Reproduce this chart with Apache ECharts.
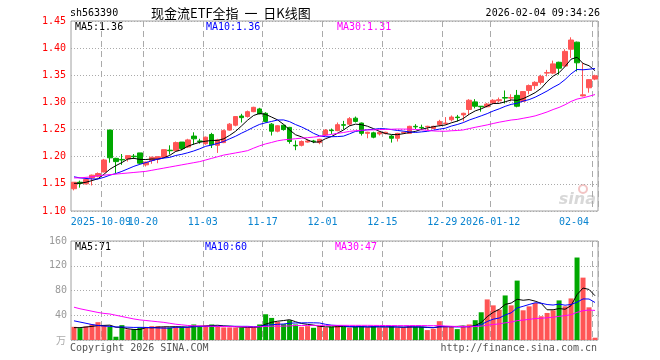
<!DOCTYPE html>
<html><head><meta charset="utf-8">
<script src="https://cdn.jsdelivr.net/npm/echarts@6/dist/echarts.min.js"></script>
<style>html,body{margin:0;padding:0;background:#fff}#c{width:660px;height:360px}</style>
</head><body><div id="c"></div>
<script>
const dates = ['2025-09-24','2025-09-25','2025-09-26','2025-09-29','2025-09-30','2025-10-09','2025-10-10','2025-10-13','2025-10-14','2025-10-15',
'2025-10-16','2025-10-17','2025-10-20','2025-10-21','2025-10-22','2025-10-23','2025-10-24','2025-10-27','2025-10-28','2025-10-29',
'2025-10-30','2025-10-31','2025-11-03','2025-11-04','2025-11-05','2025-11-06','2025-11-07','2025-11-10','2025-11-11','2025-11-12',
'2025-11-13','2025-11-14','2025-11-17','2025-11-18','2025-11-19','2025-11-20','2025-11-21','2025-11-24','2025-11-25','2025-11-26',
'2025-11-27','2025-11-28','2025-12-01','2025-12-02','2025-12-03','2025-12-04','2025-12-05','2025-12-08','2025-12-09','2025-12-10',
'2025-12-11','2025-12-12','2025-12-15','2025-12-16','2025-12-17','2025-12-18','2025-12-19','2025-12-22','2025-12-23','2025-12-24',
'2025-12-25','2025-12-26','2025-12-29','2025-12-30','2025-12-31','2026-01-05','2026-01-06','2026-01-07','2026-01-08','2026-01-09',
'2026-01-12','2026-01-13','2026-01-14','2026-01-15','2026-01-16','2026-01-19','2026-01-20','2026-01-21','2026-01-22','2026-01-23',
'2026-01-26','2026-01-27','2026-01-28','2026-01-29','2026-01-30','2026-02-02','2026-02-03','2026-02-04'];

const opens = [1.141,1.153,1.150,1.161,1.164,1.172,1.249,1.197,1.195,1.196,
1.201,1.207,1.185,1.193,1.196,1.199,1.212,1.211,1.227,1.218,
1.238,1.229,1.224,1.241,1.221,1.226,1.249,1.258,1.275,1.274,
1.283,1.288,1.280,1.260,1.247,1.258,1.254,1.221,1.221,1.227,
1.229,1.226,1.240,1.249,1.248,1.259,1.260,1.271,1.262,1.243,
1.244,1.242,1.243,1.238,1.234,1.244,1.243,1.256,1.254,1.255,
1.252,1.259,1.261,1.268,1.273,1.277,1.287,1.301,1.293,1.292,
1.299,1.303,1.309,1.308,1.313,1.302,1.322,1.331,1.337,1.354,
1.354,1.374,1.367,1.398,1.411,1.312,1.327,1.343];
const closes = [1.153,1.151,1.158,1.166,1.169,1.194,1.198,1.191,1.194,1.202,
1.200,1.188,1.190,1.199,1.200,1.213,1.211,1.226,1.215,1.231,
1.233,1.228,1.236,1.222,1.231,1.248,1.260,1.274,1.272,1.283,
1.291,1.279,1.265,1.247,1.257,1.250,1.228,1.220,1.228,1.229,
1.228,1.232,1.249,1.248,1.259,1.258,1.270,1.265,1.243,1.245,
1.236,1.245,1.245,1.234,1.243,1.245,1.256,1.255,1.253,1.256,
1.256,1.265,1.262,1.273,1.272,1.280,1.304,1.293,1.292,1.297,
1.304,1.305,1.308,1.309,1.293,1.320,1.331,1.337,1.348,1.355,
1.371,1.363,1.394,1.415,1.373,1.314,1.342,1.349];
const lows = [1.138,1.143,1.149,1.147,1.162,1.171,1.189,1.170,1.185,1.191,
1.196,1.186,1.182,1.187,1.188,1.198,1.204,1.210,1.212,1.216,
1.222,1.224,1.222,1.216,1.207,1.225,1.248,1.256,1.263,1.272,
1.282,1.278,1.263,1.239,1.245,1.248,1.224,1.212,1.219,1.226,
1.225,1.223,1.238,1.242,1.247,1.250,1.257,1.263,1.239,1.234,
1.234,1.239,1.241,1.226,1.228,1.242,1.242,1.251,1.249,1.248,
1.251,1.256,1.259,1.265,1.265,1.265,1.277,1.289,1.283,1.291,
1.297,1.300,1.298,1.302,1.291,1.301,1.315,1.324,1.333,1.348,
1.352,1.351,1.366,1.382,1.357,1.311,1.318,1.341];
const highs = [1.153,1.156,1.160,1.167,1.171,1.196,1.250,1.198,1.205,1.202,
1.205,1.207,1.191,1.200,1.200,1.213,1.221,1.228,1.227,1.233,
1.245,1.233,1.237,1.244,1.233,1.250,1.262,1.275,1.279,1.285,
1.292,1.290,1.282,1.262,1.258,1.259,1.255,1.230,1.230,1.232,
1.231,1.233,1.251,1.252,1.263,1.266,1.273,1.274,1.263,1.246,
1.246,1.247,1.246,1.240,1.244,1.246,1.257,1.260,1.259,1.257,
1.257,1.268,1.273,1.276,1.277,1.281,1.306,1.306,1.293,1.299,
1.306,1.309,1.322,1.315,1.323,1.321,1.333,1.339,1.351,1.360,
1.377,1.375,1.398,1.420,1.412,1.373,1.343,1.351];
const volumes = [21.3,19.2,21.9,25.1,28.8,22.9,21.3,5.3,24.0,17.1,
17.6,20.3,20.8,22.4,22.4,20.8,20.3,21.3,21.3,20.3,
25.1,22.9,23.5,25.1,22.4,20.3,20.3,20.3,20.3,20.3,
20.3,25.1,41.6,35.7,29.3,25.6,32.0,25.1,21.3,22.4,
19.7,22.4,20.3,21.3,23.5,21.3,19.7,21.3,22.4,20.3,
22.4,20.3,20.3,22.4,19.7,20.3,22.4,21.3,21.3,16.0,
18.1,30.4,22.4,21.3,17.6,21.3,25.1,32.0,44.8,65.6,
56.0,49.1,72.0,56.0,96.0,48.0,54.4,59.7,38.4,43.7,
48.0,64.0,54.4,67.2,133.3,100.8,52.8,3.7];

const ma5Head = [1.151,1.151,1.153,1.156];
const ma10Head = [1.163,1.161,1.160,1.159,1.159,1.162,1.166,1.169,1.173];
const ma30Head = [1.161,1.161,1.162,1.163,1.165,1.166,1.167,1.168,1.169,1.170,
1.171,1.172,1.173,1.175,1.177,1.179,1.181,1.183,1.185,1.187,
1.189,1.191,1.194,1.197,1.200,1.203,1.205,1.207,1.209];
const volMa5Head = [20,20,21,22];
const volMa10Head = [31,29,27,25,23.5,22.5,22,21,21];
const volMa30Head = [53,50.5,48.5,46.5,44.5,43,42,40,38,36,
34,32.5,31.5,30.5,29.5,28.5,27,25.5,24.5,23.5,
23,22.8,22.5,22.2,22,21.8,21.6,21.5,21.4];

const tickDates = ['2025-10-09','2025-10-20','2025-11-03','2025-11-17','2025-12-01','2025-12-15','2025-12-29','2026-01-12','2026-02-04'];
const tickLabels = ['2025-10-09','10-20','11-03','11-17','12-01','12-15','12-29','2026-01-12','02-04'];
const priceTicks = {min:1.10, max:1.45, step:0.05};
const volTicks = {min:0, max:160, step:40};

function movingAvg(src, n, head, digits) {
  return src.map((_, i) => {
    if (i < n - 1) return head[i];
    let s = 0; for (let k = i - n + 1; k <= i; k++) s += src[k];
    return +(s / n).toFixed(digits);
  });
}
const ma5 = movingAvg(closes, 5, ma5Head, 4);
const ma10 = movingAvg(closes, 10, ma10Head, 4);
const ma30 = movingAvg(closes, 30, ma30Head, 4);
const vma5 = movingAvg(volumes, 5, volMa5Head, 2);
const vma10 = movingAvg(volumes, 10, volMa10Head, 2);
const vma30 = movingAvg(volumes, 30, volMa30Head, 2);

const RED = '#ff5555', GREEN = '#00a800';
const kData = dates.map((d, i) => [opens[i], closes[i], lows[i], highs[i]]);
const volData = volumes.map((v, i) => ({value: v, itemStyle: {color: closes[i] >= opens[i] ? RED : GREEN}}));
const tickIdx = (idx) => tickDates.indexOf(dates[idx]);
const isTick = (idx) => tickIdx(idx) >= 0;
const MONO = '"DejaVu Sans Mono", "Liberation Mono", monospace';

const chart = echarts.init(document.getElementById('c'), null, {renderer: 'canvas'});
const splitX = {show: true, interval: (i) => isTick(i), lineStyle: {color: '#aaaaaa', type: [6, 4], width: 1}};
const gridBorder = {show: true, borderColor: '#a0a0a0', borderWidth: 1};
const labelBase = {formatter: (v) => tickLabels[tickDates.indexOf(v)], hideOverlap: false,
  showMinLabel: true, showMaxLabel: true,
  color: '#0a84d0', fontFamily: MONO, fontSize: 10, margin: 6, padding: [0, 6, 0, 0]};
chart.setOption({
  animation: false,
  backgroundColor: '#ffffff',
  grid: [
    Object.assign({left: 71, right: 62, top: 21, height: 190}, gridBorder),
    Object.assign({left: 71, right: 62, top: 241, height: 99}, gridBorder)
  ],
  xAxis: [
    {type: 'category', gridIndex: 0, data: dates, boundaryGap: true,
     axisLine: {show: false}, axisTick: {show: false},
     axisLabel: Object.assign({interval: (i) => isTick(i) && tickIdx(i) !== 1, alignMaxLabel: 'right'}, labelBase),
     splitLine: splitX},
    {type: 'category', gridIndex: 1, data: dates, boundaryGap: true,
     axisLine: {show: false}, axisTick: {show: false}, axisLabel: {show: false},
     splitLine: splitX},
    {type: 'category', gridIndex: 0, data: dates, boundaryGap: true, position: 'bottom',
     axisLine: {show: false}, axisTick: {show: false}, splitLine: {show: false},
     axisLabel: Object.assign({interval: (i) => tickIdx(i) === 1}, labelBase)}
  ],
  yAxis: [
    {type: 'value', gridIndex: 0, min: priceTicks.min, max: priceTicks.max, interval: priceTicks.step, scale: true,
     axisLine: {show: false}, axisTick: {show: false},
     axisLabel: {formatter: (v) => v.toFixed(2), color: '#ff0000', fontFamily: MONO, fontSize: 10, margin: 5},
     splitLine: {show: true, lineStyle: {color: '#aaaaaa', type: [1, 2]}}},
    {type: 'value', gridIndex: 1, min: volTicks.min, max: volTicks.max, interval: volTicks.step,
     axisLine: {show: false}, axisTick: {show: false},
     axisLabel: {formatter: (v) => v === 0 ? '' : String(v), color: '#999999', fontFamily: MONO, fontSize: 10, margin: 4},
     splitLine: {show: true, lineStyle: {color: '#aaaaaa', type: [1, 2]}}}
  ],
  series: [
    {type: 'candlestick', xAxisIndex: 0, yAxisIndex: 0, data: kData, barWidth: 5,
     itemStyle: {color: RED, color0: GREEN, borderColor: RED, borderColor0: GREEN, borderWidth: 1}},
    {type: 'line', xAxisIndex: 0, yAxisIndex: 0, data: ma5, symbol: 'none', lineStyle: {color: '#000000', width: 1}},
    {type: 'line', xAxisIndex: 0, yAxisIndex: 0, data: ma10, symbol: 'none', lineStyle: {color: '#0000ff', width: 1}},
    {type: 'line', xAxisIndex: 0, yAxisIndex: 0, data: ma30, symbol: 'none', lineStyle: {color: '#ff00ff', width: 1}},
    {type: 'bar', xAxisIndex: 1, yAxisIndex: 1, data: volData, barWidth: 5},
    {type: 'line', xAxisIndex: 1, yAxisIndex: 1, data: vma5, symbol: 'none', lineStyle: {color: '#000000', width: 1}},
    {type: 'line', xAxisIndex: 1, yAxisIndex: 1, data: vma10, symbol: 'none', lineStyle: {color: '#0000ff', width: 1}},
    {type: 'line', xAxisIndex: 1, yAxisIndex: 1, data: vma30, symbol: 'none', lineStyle: {color: '#ff00ff', width: 1}}
  ],
  graphic: [
    {type: 'text', x: 70, y: 13, style: {text: 'sh563390', font: '10px ' + MONO, fill: '#000', verticalAlign: 'middle'}},
    {type: 'text', x: 151, y: 13, style: {text: '现金流ETF全指  一  日K线图', font: '13px "Noto Sans CJK SC"', fill: '#000', verticalAlign: 'middle'}},
    {type: 'text', x: 600, y: 13, style: {text: '2026-02-04 09:34:26', font: '10px ' + MONO, fill: '#000', align: 'right', verticalAlign: 'middle'}},
    {type: 'text', x: 75, y: 27, style: {text: 'MA5:1.36', font: '10px ' + MONO, fill: '#000', verticalAlign: 'middle'}},
    {type: 'text', x: 206, y: 27, style: {text: 'MA10:1.36', font: '10px ' + MONO, fill: '#0000ff', verticalAlign: 'middle'}},
    {type: 'text', x: 337, y: 27, style: {text: 'MA30:1.31', font: '10px ' + MONO, fill: '#ff00ff', verticalAlign: 'middle'}},
    {type: 'text', x: 75, y: 247, style: {text: 'MA5:71', font: '10px ' + MONO, fill: '#000', verticalAlign: 'middle'}},
    {type: 'text', x: 205, y: 247, style: {text: 'MA10:60', font: '10px ' + MONO, fill: '#0000ff', verticalAlign: 'middle'}},
    {type: 'text', x: 335, y: 247, style: {text: 'MA30:47', font: '10px ' + MONO, fill: '#ff00ff', verticalAlign: 'middle'}},
    {type: 'text', x: 66, y: 340, style: {text: '万', font: '10px "Noto Sans CJK SC"', fill: '#aaaaaa', align: 'right', verticalAlign: 'middle'}},
    {type: 'text', x: 70, y: 348, style: {text: 'Copyright 2026 SINA.COM', font: '10px ' + MONO, fill: '#555', verticalAlign: 'middle'}},
    {type: 'text', x: 597, y: 348, style: {text: 'http://finance.sina.com.cn', font: '10px ' + MONO, fill: '#555', align: 'right', verticalAlign: 'middle'}},
    {type: 'circle', shape: {cx: 583, cy: 189, r: 4}, style: {fill: 'none', stroke: '#f2c4c4', lineWidth: 2}},
    {type: 'text', x: 596, y: 200, style: {text: 'sina', font: 'italic bold 16px "DejaVu Sans"', fill: '#d8d8d8', align: 'right', verticalAlign: 'middle'}}
  ]
});
</script></body></html>
